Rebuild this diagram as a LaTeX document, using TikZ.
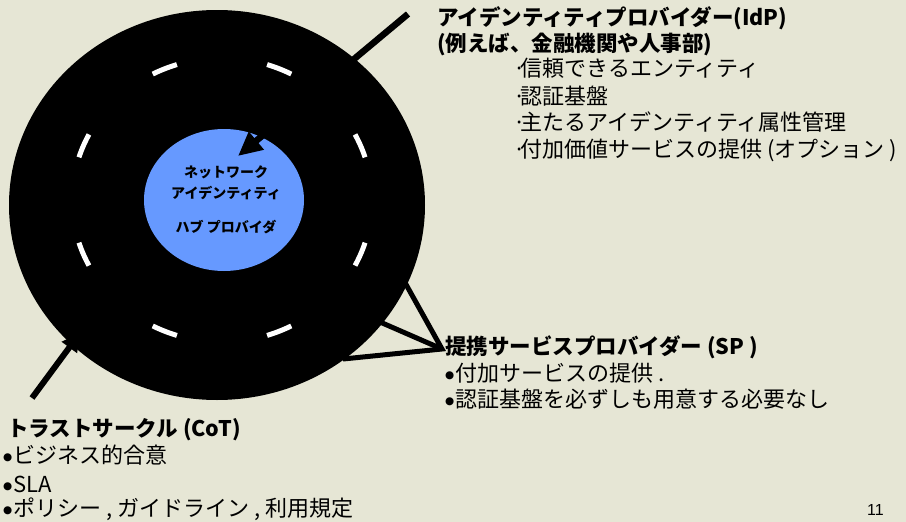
\documentclass[tikz,border=0pt]{standalone}
\usepackage{fontspec}
\setmainfont{Noto Sans CJK JP}
\newfontfamily\numfont{Liberation Sans}
\newfontfamily\bulfont{DejaVu Sans}
\newcommand{\bul}{\raisebox{3pt}{\bulfont\fontsize{10.5}{10.5}\selectfont ●}\kern1.5pt}
\newcommand{\dotbul}{·\kern-5pt}
\usetikzlibrary{shapes.geometric,arrows.meta}
\definecolor{bgbeige}{RGB}{230,230,213}
\definecolor{hubblue}{RGB}{102,153,255}
\begin{document}
\begin{tikzpicture}[x=1pt,y=-1pt,
  txt/.style={anchor=base west, inner sep=0, font=\fontsize{22}{26}\selectfont},
  ttl/.style={anchor=base west, inner sep=0, font=\fontsize{21.5}{26}\selectfont\bfseries},
  conn/.style={line width=5.5pt, draw=black},
  dashmark/.style={white, line width=5pt},
]
\fill[bgbeige] (0,0) rectangle (906,522);
\useasboundingbox (0,0) rectangle (906,522);
% circle of trust
\node[ellipse, fill=black, inner sep=0, minimum width=416pt, minimum height=390pt] (cot) at (217,205) {};
\foreach \a in {22.5,67.5,...,337.5}{
  \pgfmathsetmacro{\aS}{\a-5}
  \pgfmathsetmacro{\aE}{\a+5}
  \draw[dashmark] plot[domain=\aS:\aE, samples=6] ({222+150*cos(\x)},{200-142*sin(\x)});
}
% hub
\node[ellipse, fill=hubblue, inner sep=0, minimum width=160pt, minimum height=142pt] (hub) at (224,200) {};
\node[align=center, inner sep=0, font=\fontsize{14}{20.5}\selectfont\bfseries] (hubtext) at (226,200) {ネットワーク\\アイデンティティ\\[14pt]ハブ プロバイダ};
% IdP arrow
\coordinate (idpfoot) at (408,14);
\coordinate (hubtip) at (238,156);
\draw[conn, line width=6.5pt, -{Triangle[length=24pt, width=22pt]}] (idpfoot) -- (hubtip);
% SP lines
\coordinate (sptip) at (442,349);
\coordinate (spA) at (403,279);
\coordinate (spB) at (380,322);
\coordinate (spC) at (343,359);
\draw[conn, line width=5pt, line join=miter] (spA) -- (sptip) -- (spC);
\draw[conn, line width=5pt] (spB) -- (sptip);
% CoT arrow
\coordinate (cotfoot) at (32,398);
\coordinate (cottip) at (80,333);
\draw[conn, line width=6pt, -{Triangle[length=18pt, width=18pt]}] (cotfoot) -- (cottip);
% IdP text
\node[ttl] (idp1) at (437,25) {アイデンティティプロバイダー(IdP)};
\node[ttl] (idp2) at (437,51) {(例えば、金融機関や人事部)};
\node[txt] (idp3) at (513,76) {\dotbul 信頼できるエンティティ};
\node[txt] (idp4) at (513,104) {\dotbul 認証基盤};
\node[txt] (idp5) at (513,130) {\dotbul 主たるアイデンティティ属性管理};
\node[txt] (idp6) at (513,157) {\dotbul 付加価値サービスの提供 (オプション )};
% SP text
\node[ttl] (sp1) at (445,354) {提携サービスプロバイダー (SP )};
\node[txt] (sp2) at (445,381) {\bul 付加サービスの提供 .};
\node[txt] (sp3) at (445,407) {\bul 認証基盤を必ずしも用意する必要なし};
% CoT text
\node[ttl] (cot1) at (7,436) {トラストサークル (CoT)};
\node[txt] (cot2) at (3,463) {\bul ビジネス的合意};
\node[txt] (cot3) at (3,492) {\bul SLA};
\node[txt] (cot4) at (3,516) {\bul ポリシー , ガイドライン , 利用規定};
% page number
\node[anchor=base west, inner sep=0, font=\numfont\fontsize{16}{18}\selectfont] (pagenum) at (867,515) {11};
\end{tikzpicture}
\end{document}
